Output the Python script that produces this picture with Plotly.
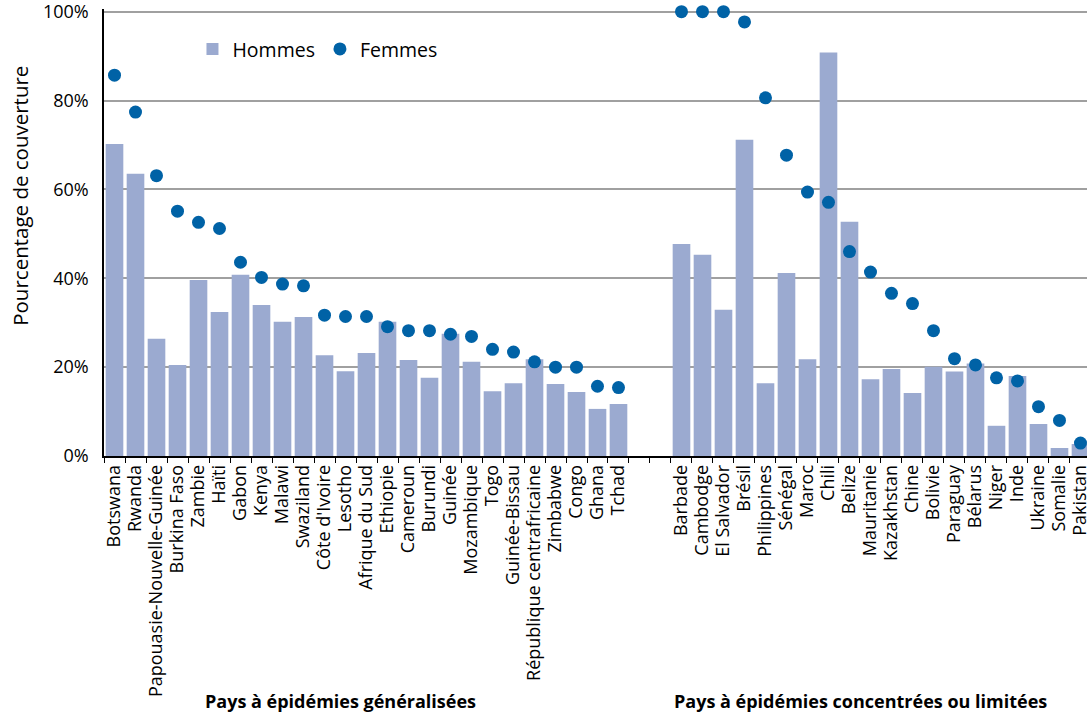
import plotly.graph_objects as go

# Data
pays_generalisees = ["Botswana", "Rwanda", "Papouasie-Nouvelle-Guinée", "Burkina Faso", "Zambie",
                     "Haïti", "Gabon", "Kenya", "Malawi", "Swaziland", "Côte d'Ivoire", "Lesotho",
                     "Afrique du Sud", "Ethiopie", "Cameroun", "Burundi", "Guinée", "Mozambique",
                     "Togo", "Guinée-Bissau", "République centrafricaine", "Zimbabwe", "Congo",
                     "Ghana", "Tchad"]
hommes_generalisees = [70.2, 63.5, 26.4, 20.5, 39.6, 32.4, 40.8, 34.0, 30.2, 31.3, 22.7, 19.1,
                       23.2, 30.2, 21.6, 17.6, 27.5, 21.2, 14.6, 16.4, 21.8, 16.2, 14.4, 10.6, 11.7]
femmes_generalisees = [85.7, 77.4, 63.1, 55.1, 52.6, 51.2, 43.6, 40.2, 38.7, 38.3, 31.7, 31.4,
                       31.4, 29.1, 28.2, 28.2, 27.4, 26.9, 24.0, 23.4, 21.2, 20.0, 20.0, 15.7, 15.4]

pays_concentrees = ["Barbade", "Cambodge", "El Salvador", "Brésil", "Philippines", "Sénégal",
                    "Maroc", "Chili", "Belize", "Mauritanie", "Kazakhstan", "Chine", "Bolivie",
                    "Paraguay", "Bélarus", "Niger", "Inde", "Ukraine", "Somalie", "Pakistan"]
hommes_concentrees = [47.7, 45.3, 32.9, 71.2, 16.4, 41.2, 21.8, 90.8, 52.7, 17.3, 19.6, 14.2,
                      20.1, 19.0, 20.8, 6.8, 18.0, 7.2, 1.8, 2.7]
femmes_concentrees = [100, 100, 100, 97.7, 80.6, 67.7, 59.4, 57.1, 46.0, 41.4, 36.6, 34.3,
                      28.2, 21.9, 20.5, 17.6, 16.9, 11.1, 8.0, 2.9]

separateurs = [" ", "  "]
y_ticks = [0, 20, 40, 60, 80, 100]
y_tick_labels = ["0%", "20%", "40%", "60%", "80%", "100%"]

categories = pays_generalisees + separateurs + pays_concentrees
hommes = hommes_generalisees + [None] * len(separateurs) + hommes_concentrees
femmes = femmes_generalisees + [None] * len(separateurs) + femmes_concentrees

FONT = "Open Sans"
BAR_COLOR = "#9BAAD0"
DOT_COLOR = "#0062A6"

fig = go.Figure()
fig.add_trace(go.Bar(x=categories, y=hommes, name="Hommes", marker=dict(color=BAR_COLOR, line=dict(width=0))))
fig.add_trace(go.Scatter(x=categories, y=femmes, name="Femmes", mode="markers",
                         marker=dict(color=DOT_COLOR, size=13), cliponaxis=False))

fig.update_layout(
    width=1087, height=712,
    margin=dict(l=104, r=0, t=9, b=256),
    plot_bgcolor="white", paper_bgcolor="white",
    font=dict(family=FONT, color="black", size=16),
    bargap=0.16,
    showlegend=True,
    legend=dict(orientation="h", x=0.09, y=0.91, xanchor="left", yanchor="middle",
                font=dict(size=19.5), bgcolor="rgba(0,0,0,0)", itemwidth=30, tracegroupgap=0),
    annotations=[
        dict(text="Pourcentage de couverture", textangle=-90, x=-0.0855, y=0.582,
             xref="paper", yref="paper", showarrow=False, font=dict(size=20.5),
             xanchor="center", yanchor="middle"),
        dict(text="<b>Pays à épidémies généralisées</b>", x=4.21, y=-0.547, xref="x", yref="paper",
             showarrow=False, font=dict(size=18), xanchor="left", yanchor="middle"),
        dict(text="<b>Pays à épidémies concentrées ou limitées</b>", x=26.53, y=-0.547, xref="x",
             yref="paper", showarrow=False, font=dict(size=18), xanchor="left", yanchor="middle"),
    ],
)
fig.update_xaxes(type="category", categoryorder="array", categoryarray=categories,
                 tickmode="array", tickvals=categories, ticktext=categories,
                 range=[-0.5, 46.31], tickangle=-90, tickfont=dict(size=18),
                 showline=True, linecolor="black", linewidth=1.5,
                 ticks="outside", ticklen=5, tickcolor="black", tickwidth=1.2,
                 tickson="boundaries", showgrid=False, automargin=False,
                 ticklabeloverflow="allow")
fig.update_yaxes(range=[0, 100.6], tickvals=y_ticks, ticktext=y_tick_labels, tickfont=dict(size=18),
                 showgrid=True, gridcolor="#A0A0A0", gridwidth=1.5,
                 showline=True, linecolor="black", linewidth=1.5,
                 ticks="", ticklabelstandoff=10, zeroline=False, automargin=False,
                 ticklabeloverflow="allow")

fig.write_html("out.html", config={"displayModeBar": False},
               post_script="document.body.style.margin='0px';")
